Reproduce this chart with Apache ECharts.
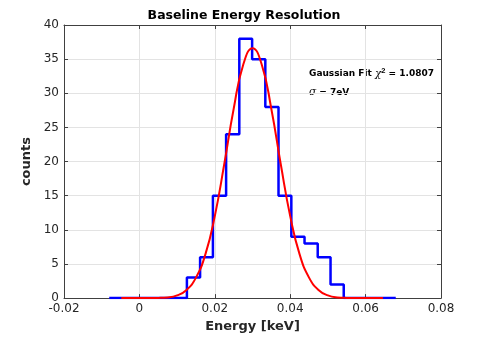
<!DOCTYPE html>
<html>
<head>
<meta charset="utf-8">
<script src="https://cdn.jsdelivr.net/npm/echarts@6/dist/echarts.min.js"></script>
<style>
html, body { margin: 0; padding: 0; background: #fff; }
#chart { width: 488px; height: 338px; }
</style>
</head>
<body>
<div id="chart"></div>
<script>
// histogram: left bin edges and counts
var binEdges = [-0.0080, 0.0126, 0.0161, 0.0195, 0.0230, 0.0265, 0.0299, 0.0334, 0.0369, 0.0403, 0.0438, 0.0473, 0.0507, 0.0542, 0.0680];
var binCounts = [0, 3, 6, 15, 24, 38, 35, 28, 15, 9, 8, 6, 2, 0, 0];

// gaussian fit curve
var fitX = [-0.0048, 0.000, 0.005, 0.0075, 0.010, 0.0125, 0.015, 0.0175, 0.020, 0.0225, 0.025, 0.0275, 0.030, 0.0325, 0.035, 0.0375, 0.040, 0.0425, 0.045, 0.0475, 0.050, 0.0525, 0.055, 0.060, 0.0646];
var fitY = [0, 0, 0.03, 0.1, 0.4, 1.2, 3.0, 6.4, 12.0, 19.6, 27.7, 34.1, 36.6, 34.1, 27.7, 19.6, 12.0, 6.4, 3.0, 1.2, 0.4, 0.1, 0.03, 0, 0];

var xTicks = [-0.02, 0, 0.02, 0.04, 0.06, 0.08];
var yTicks = [0, 5, 10, 15, 20, 25, 30, 35, 40];

var histData = [];
for (var i = 0; i < binEdges.length; i++) {
    histData.push([binEdges[i], binCounts[i]]);
}
var fitData = [];
for (var i = 0; i < fitX.length; i++) {
    fitData.push([fitX[i], fitY[i]]);
}

var axisColor = '#404040';
var labelFont = {color: '#262626', fontSize: 12, fontFamily: 'DejaVu Sans', margin: 5};

var myChart = echarts.init(document.getElementById('chart'));
myChart.setOption({
    animation: false,
    title: {
        text: 'Baseline Energy Resolution',
        left: 'center',
        top: 4,
        textStyle: {fontSize: 12.5, fontWeight: 'bold', color: '#000', fontFamily: 'DejaVu Sans'}
    },
    grid: {left: 64, top: 25, width: 377, height: 274, containLabel: false},
    xAxis: [{
        type: 'value',
        min: xTicks[0],
        max: xTicks[xTicks.length - 1],
        interval: 0.02,
        name: 'Energy [keV]',
        nameLocation: 'middle',
        nameGap: 21,
        nameTextStyle: {fontSize: 13, fontWeight: 'bold', color: '#262626', fontFamily: 'DejaVu Sans'},
        axisLine: {onZero: false, lineStyle: {color: axisColor}},
        axisTick: {inside: true, length: 4, lineStyle: {color: axisColor}},
        axisLabel: labelFont,
        splitLine: {show: true, lineStyle: {color: '#e3e3e3'}}
    }, {
        type: 'value',
        position: 'top',
        min: xTicks[0],
        max: xTicks[xTicks.length - 1],
        interval: 0.02,
        axisLine: {show: true, onZero: false, lineStyle: {color: axisColor}},
        axisTick: {inside: true, length: 4, lineStyle: {color: axisColor}},
        axisLabel: {show: false},
        splitLine: {show: false}
    }],
    yAxis: [{
        type: 'value',
        min: yTicks[0],
        max: yTicks[yTicks.length - 1],
        interval: 5,
        name: 'counts',
        nameLocation: 'middle',
        nameGap: 20,
        nameTextStyle: {fontSize: 13, fontWeight: 'bold', color: '#262626', fontFamily: 'DejaVu Sans'},
        axisLine: {show: true, onZero: false, lineStyle: {color: axisColor}},
        axisTick: {show: true, inside: true, length: 4, lineStyle: {color: axisColor}},
        axisLabel: labelFont,
        splitLine: {show: true, lineStyle: {color: '#e3e3e3'}}
    }, {
        type: 'value',
        position: 'right',
        min: yTicks[0],
        max: yTicks[yTicks.length - 1],
        interval: 5,
        axisLine: {show: true, onZero: false, lineStyle: {color: axisColor}},
        axisTick: {show: true, inside: true, length: 4, lineStyle: {color: axisColor}},
        axisLabel: {show: false},
        splitLine: {show: false}
    }],
    graphic: [{
        type: 'text',
        left: 309,
        top: 67,
        style: {
            text: 'Gaussian Fit {i|χ}{s|2} = 1.0807',
            font: 'bold 9px DejaVu Sans',
            fill: '#000',
            rich: {
                i: {fontStyle: 'italic', fontWeight: 'normal', fontSize: 10.5, fontFamily: 'DejaVu Serif'},
                s: {fontSize: 7.5, fontWeight: 'bold', verticalAlign: 'top', padding: [0, 0, 6, 0]}
            }
        }
    }, {
        type: 'text',
        left: 309,
        top: 87,
        style: {
            text: '{i|σ} = 7eV',
            font: 'bold 9px DejaVu Sans',
            fill: '#000',
            rich: {
                i: {fontStyle: 'italic', fontWeight: 'normal', fontSize: 10.5, fontFamily: 'DejaVu Serif'}
            }
        }
    }],
    series: [{
        name: 'histogram',
        type: 'line',
        step: 'end',
        data: histData,
        showSymbol: false,
        lineStyle: {color: '#0000ff', width: 2.5},
        z: 2
    }, {
        name: 'fit',
        type: 'line',
        smooth: true,
        data: fitData,
        showSymbol: false,
        lineStyle: {color: '#ff0000', width: 2},
        z: 3
    }]
});
</script>
</body>
</html>
